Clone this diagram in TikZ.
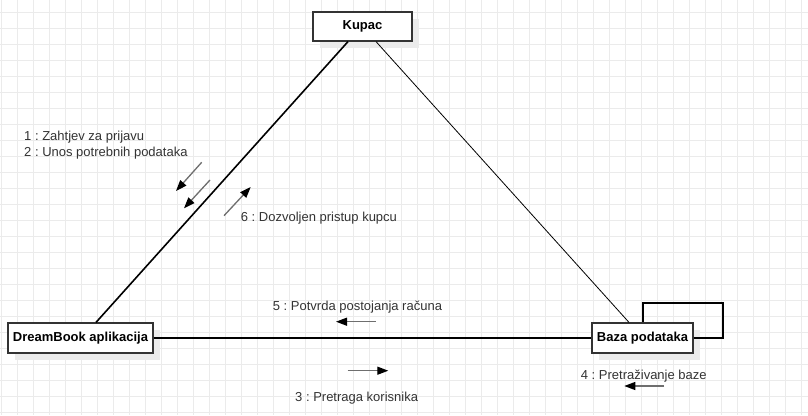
\documentclass[tikz,border=0pt]{standalone}
\usepackage{fontspec}
\setmainfont{Liberation Sans}
\frenchspacing
\usetikzlibrary{arrows.meta,calc,shadows}
\definecolor{txt}{HTML}{333333}
\definecolor{gridc}{HTML}{EBEBEB}
\definecolor{msgline}{HTML}{6E6E6E}
\begin{document}
\begin{tikzpicture}[x=1pt,y=-1pt,
  obj/.style={draw=txt, line width=1.2pt, fill=white, inner sep=0pt,
    font=\fontsize{13}{15}\selectfont\bfseries, text=black,
    drop shadow={shadow xshift=7pt, shadow yshift=-7pt, fill=black!8, opacity=1}},
  msg/.style={font=\fontsize{13}{15}\selectfont\frenchspacing, text=txt, anchor=base west, inner sep=0pt},
  arr/.style={draw=msgline, line width=1.3pt, -{Triangle[length=11pt,width=8pt,color=black,fill=black]}},
  link/.style={line width=1.6pt, draw=black},
  thinlink/.style={line width=0.8pt, draw=black},
]
\useasboundingbox (0,0) rectangle (808,415);
\fill[white] (0,0) rectangle (808,415);
% grid
\foreach \i in {0,...,50} \draw[gridc, line width=0.8pt] (1.3+16*\i,0) -- (1.3+16*\i,415);
\foreach \j in {0,...,25} \draw[gridc, line width=0.8pt] (0,12.3+16*\j) -- (808,12.3+16*\j);

% objects
\node[obj, minimum width=99pt, minimum height=29pt] (kupac) at (362.5,26.5) {Kupac};
\node[obj, minimum width=145pt, minimum height=30pt] (dream) at (80.5,338) {DreamBook aplikacija};
\node[obj, minimum width=101pt, minimum height=30pt] (baza) at (642.5,338) {Baza podataka};

% links
\draw[link] ($(kupac.south)+(-14.5,0)$) -- ($(dream.north)+(15.5,0)$);
\draw[thinlink] ($(kupac.south)+(13.5,0)$) -- ($(baza.north)+(-13.5,0)$);
\draw[link] (dream.east) -- (baza.west);
\draw[link] (baza.east) -- ++(29.5,0) -- ++(0,-35) -| ($(baza.north)+(0.5,0)$);

% message arrows
\coordinate (m1s) at (201.7,162.3); \coordinate (m1e) at (176,191);
\coordinate (m2s) at (210,180);     \coordinate (m2e) at (184,208.3);
\coordinate (m6s) at (224,215.7);   \coordinate (m6e) at (250.7,187);
\coordinate (m5s) at (375.7,321.7); \coordinate (m5e) at (336,321.7);
\coordinate (m3s) at (347.7,370.7); \coordinate (m3e) at (388.3,370.7);
\coordinate (m4s) at (664,386);     \coordinate (m4e) at (624.3,386);
\draw[arr] (m1s) -- (m1e);
\draw[arr] (m2s) -- (m2e);
\draw[arr] (m6s) -- (m6e);
\draw[arr] (m5s) -- (m5e);
\draw[arr] (m3s) -- (m3e);
\draw[arr] (m4s) -- (m4e);

% labels
\node[msg] (l1) at (24,140) {1 : Zahtjev za prijavu};
\node[msg] (l2) at (24,156.7) {2 : Unos potrebnih podataka};
\node[msg] (l6) at (240.7,221) {6 : Dozvoljen pristup kupcu};
\node[msg] (l5) at (272.7,310) {5 : Potvrda postojanja računa};
\node[msg] (l3) at (295,401) {3 : Pretraga korisnika};
\node[msg] (l4) at (580.7,379.3) {4 : Pretraživanje baze};
\end{tikzpicture}
\end{document}
